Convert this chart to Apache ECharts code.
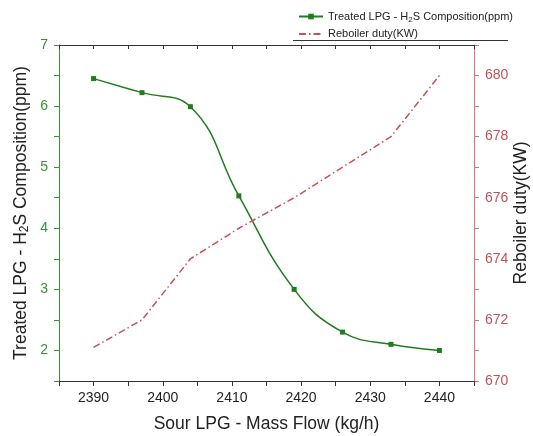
<!DOCTYPE html>
<html>
<head>
<meta charset="utf-8">
<script src="https://cdn.jsdelivr.net/npm/echarts@6/dist/echarts.min.js"></script>
<style>html,body{margin:0;padding:0;background:#fff;}#c{width:533px;height:436px;}</style>
</head>
<body>
<div id="c"></div>
<script>
var massFlow = [2390, 2397, 2404, 2411, 2419, 2426, 2433, 2440];
var h2sComposition = [6.45, 6.22, 5.99, 4.53, 3.0, 2.30, 2.10, 2.0];
var reboilerDuty = [671.1, 672.0, 674.0, 675.0, 676.0, 677.0, 678.0, 680.0];

var green = '#1e7d1e';
var greenAxis = '#3a8f3a';
var red = '#c8505a';
var redAxis = '#d9737a';
var font = 'Arial, "Liberation Sans", sans-serif';

var chart = echarts.init(document.getElementById('c'));
chart.setOption({
  backgroundColor: '#fff',
  animation: false,
  textStyle: { fontFamily: font },
  grid: { left: 59, right: 59, top: 45, bottom: 55, containLabel: false, outerBoundsMode: 'none' },
  legend: {
    orient: 'vertical',
    left: 293,
    top: 6,
    itemWidth: 24,
    itemHeight: 7,
    itemGap: 5,
    textStyle: {
      fontSize: 11, color: '#222', fontFamily: font,
      rich: { sub: { fontSize: 8, verticalAlign: 'bottom', padding: [6, 0, 0, 0], color: '#222' } }
    },
    formatter: function (n) {
      if (n.indexOf('Treated') === 0) return 'Treated LPG - H{sub|2}S Composition(ppm)';
      return n;
    },
    data: [
      { name: 'Treated LPG - H2S Composition(ppm)' },
      { name: 'Reboiler duty(KW)', itemStyle: { opacity: 0 } }
    ]
  },
  graphic: [{
    type: 'line',
    shape: { x1: 293, y1: 40.5, x2: 508, y2: 40.5 },
    style: { stroke: '#333', lineWidth: 1 }
  }],
  xAxis: [{
    type: 'value',
    position: 'bottom',
    min: 2385, max: 2445, interval: 5,
    splitLine: { show: false },
    axisLine: { show: true, lineStyle: { color: '#333', width: 1 } },
    axisTick: { show: true, inside: false, length: 5, lineStyle: { color: '#333' } },
    axisLabel: {
      color: '#222', fontSize: 14, margin: 10,
      formatter: function (v) { return v % 10 === 0 ? String(v) : ''; }
    },
    name: 'Sour LPG - Mass Flow (kg/h)',
    nameLocation: 'middle',
    nameMoveOverlap: false,
    nameGap: 34,
    nameTextStyle: { fontSize: 17.5, color: '#222' }
  }, {
    type: 'value',
    position: 'top',
    min: 2385, max: 2445, interval: 5,
    splitLine: { show: false },
    axisLine: { show: true, lineStyle: { color: '#333', width: 1 } },
    axisTick: { show: true, inside: true, length: 4, lineStyle: { color: '#333' } },
    axisLabel: { show: false }
  }],
  yAxis: [{
    type: 'value',
    position: 'left',
    min: 1.5, max: 7, interval: 0.5,
    splitLine: { show: false },
    axisLine: { show: true, lineStyle: { color: greenAxis, width: 1 } },
    axisTick: { show: true, inside: false, length: 5, lineStyle: { color: greenAxis } },
    axisLabel: {
      color: greenAxis, fontSize: 14, margin: 11,
      formatter: function (v) { return Math.abs(v - Math.round(v)) < 1e-9 ? String(Math.round(v)) : ''; }
    },
    name: 'Treated LPG - H{sub|2}S Composition(ppm)',
    nameLocation: 'middle',
    nameMoveOverlap: false,
    nameRotate: 90,
    nameGap: 28,
    nameTextStyle: {
      fontSize: 17.5, color: '#222',
      rich: { sub: { fontSize: 12, color: '#222', padding: [8, 0, 0, 0], verticalAlign: 'bottom' } }
    }
  }, {
    type: 'value',
    position: 'right',
    min: 670, max: 681, interval: 1,
    splitLine: { show: false },
    axisLine: { show: true, lineStyle: { color: redAxis, width: 1 } },
    axisTick: { show: true, inside: false, length: 5, lineStyle: { color: redAxis } },
    axisLabel: {
      color: '#c0505a', fontSize: 14, margin: 11,
      formatter: function (v) { return v % 2 === 0 ? String(v) : ''; }
    },
    name: 'Reboiler duty(KW)',
    nameLocation: 'middle',
    nameMoveOverlap: false,
    nameRotate: 90,
    nameGap: 38,
    nameTextStyle: { fontSize: 17.5, color: '#222' }
  }],
  series: [{
    name: 'Treated LPG - H2S Composition(ppm)',
    type: 'line',
    xAxisIndex: 0,
    yAxisIndex: 0,
    smooth: 0.45,
    symbol: 'rect',
    symbolSize: 5,
    itemStyle: { color: green },
    lineStyle: { color: green, width: 1.5 },
    data: massFlow.map(function (x, i) { return [x, h2sComposition[i]]; })
  }, {
    name: 'Reboiler duty(KW)',
    type: 'line',
    xAxisIndex: 0,
    yAxisIndex: 1,
    symbol: 'none',
    itemStyle: { color: red },
    lineStyle: { color: red, width: 1.5, type: [7, 3, 1.5, 3] },
    data: massFlow.map(function (x, i) { return [x, reboilerDuty[i]]; })
  }]
});
</script>
</body>
</html>
